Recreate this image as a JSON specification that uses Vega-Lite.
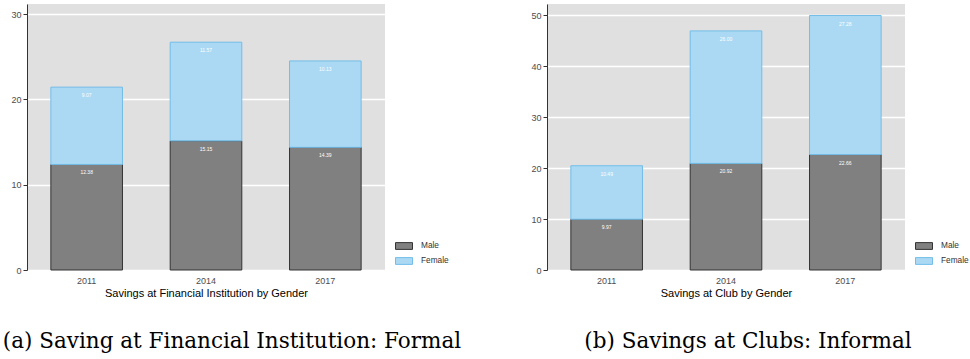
{
  "$schema": "https://vega.github.io/schema/vega-lite/v6.json",
  "padding": {"left": 2, "top": 4, "right": 0, "bottom": 0},
  "background": "white",
  "bounds": "flush",
  "config": {
    "view": {"fill": "#E0E0E0", "stroke": null},
    "axis": {"labelFont": "Liberation Sans", "titleFont": "Liberation Sans", "labelColor": "#4D4D4D", "labelFontSize": 9, "titleFontSize": 11, "titleFontWeight": "normal", "titleColor": "#000000"},
    "legend": {"labelFont": "Liberation Sans", "labelFontSize": 8.3, "labelColor": "#333333"},
    "title": {"font": "DejaVu Serif", "fontSize": 21.5, "fontWeight": "normal", "color": "#000000"}
  },
  "datasets": {
    "savings": [
      {"panel": "formal", "year": "2011", "gender": "Male", "value": 12.38},
      {"panel": "formal", "year": "2011", "gender": "Female", "value": 9.07},
      {"panel": "formal", "year": "2014", "gender": "Male", "value": 15.15},
      {"panel": "formal", "year": "2014", "gender": "Female", "value": 11.57},
      {"panel": "formal", "year": "2017", "gender": "Male", "value": 14.39},
      {"panel": "formal", "year": "2017", "gender": "Female", "value": 10.13},
      {"panel": "club", "year": "2011", "gender": "Male", "value": 9.97},
      {"panel": "club", "year": "2011", "gender": "Female", "value": 10.49},
      {"panel": "club", "year": "2014", "gender": "Male", "value": 20.92},
      {"panel": "club", "year": "2014", "gender": "Female", "value": 26.00},
      {"panel": "club", "year": "2017", "gender": "Male", "value": 22.66},
      {"panel": "club", "year": "2017", "gender": "Female", "value": 27.28}
    ]
  },
  "data": {"name": "savings"},
  "transform": [
    {"calculate": "datum.gender === 'Male' ? 0 : 1", "as": "ord"},
    {"stack": "value", "groupby": ["panel", "year"], "sort": [{"field": "ord", "order": "ascending"}], "as": ["v0", "v1"]},
    {"calculate": "format(datum.value, '.2f')", "as": "lbl"}
  ],
  "resolve": {"legend": {"fill": "independent", "stroke": "independent"}, "scale": {"y": "independent"}},
  "spacing": 162,
  "hconcat": [
    {
      "width": 358,
      "height": 266,
      "title": {"text": "(a) Saving at Financial Institution: Formal", "orient": "bottom", "anchor": "middle", "offset": 33, "dx": 26},
      "transform": [{"filter": "datum.panel === 'formal'"}],
      "layer": [
        {
          "mark": {"type": "bar", "strokeWidth": 1},
          "encoding": {
            "x": {"field": "year", "type": "nominal", "scale": {"paddingInner": 0.4, "paddingOuter": 0.2}, "axis": {"title": "Savings at Financial Institution by Gender", "labelAngle": 0, "domain": false, "ticks": false, "labelPadding": 6, "titlePadding": 2}},
            "y": {"field": "v0", "type": "quantitative", "scale": {"domain": [0, 31.2], "nice": false}, "axis": {"title": null, "values": [0, 10, 20, 30], "gridColor": "#FFFFFF", "gridWidth": 1.5, "domainColor": "#333333", "tickColor": "#333333", "tickSize": 4, "labelPadding": 2}},
            "y2": {"field": "v1"},
            "fill": {"field": "gender", "type": "nominal", "scale": {"domain": ["Male", "Female"], "range": ["#808080", "#ABD9F3"]}, "legend": {"title": null, "orient": "none", "legendX": 368, "legendY": 233, "symbolType": "M-1,-0.4L1,-0.4L1,0.4L-1,0.4Z", "symbolSize": 289, "symbolStrokeWidth": 1, "rowPadding": -4, "labelOffset": 8}},
            "stroke": {"field": "gender", "type": "nominal", "scale": {"domain": ["Male", "Female"], "range": ["#333333", "#72BDE9"]}, "legend": null}
          }
        },
        {
          "mark": {"type": "text", "baseline": "top", "dy": 6, "fontSize": 5, "color": "#FFFFFF", "font": "Liberation Sans"},
          "encoding": {
            "x": {"field": "year", "type": "nominal"},
            "y": {"field": "v1", "type": "quantitative"},
            "text": {"field": "lbl"}
          }
        }
      ]
    },
    {
      "width": 358,
      "height": 266,
      "title": {"text": "(b) Savings at Clubs: Informal", "orient": "bottom", "anchor": "middle", "offset": 33, "dx": 22},
      "transform": [{"filter": "datum.panel === 'club'"}],
      "layer": [
        {
          "mark": {"type": "bar", "strokeWidth": 1},
          "encoding": {
            "x": {"field": "year", "type": "nominal", "scale": {"paddingInner": 0.4, "paddingOuter": 0.2}, "axis": {"title": "Savings at Club by Gender", "labelAngle": 0, "domain": false, "ticks": false, "labelPadding": 6, "titlePadding": 2}},
            "y": {"field": "v0", "type": "quantitative", "scale": {"domain": [0, 52.2], "nice": false}, "axis": {"title": null, "values": [0, 10, 20, 30, 40, 50], "gridColor": "#FFFFFF", "gridWidth": 1.5, "domainColor": "#333333", "tickColor": "#333333", "tickSize": 4, "labelPadding": 2}},
            "y2": {"field": "v1"},
            "fill": {"field": "gender", "type": "nominal", "scale": {"domain": ["Male", "Female"], "range": ["#808080", "#ABD9F3"]}, "legend": {"title": null, "orient": "none", "legendX": 368, "legendY": 233, "symbolType": "M-1,-0.4L1,-0.4L1,0.4L-1,0.4Z", "symbolSize": 289, "symbolStrokeWidth": 1, "rowPadding": -4, "labelOffset": 8}},
            "stroke": {"field": "gender", "type": "nominal", "scale": {"domain": ["Male", "Female"], "range": ["#333333", "#72BDE9"]}, "legend": null}
          }
        },
        {
          "mark": {"type": "text", "baseline": "top", "dy": 6, "fontSize": 5, "color": "#FFFFFF", "font": "Liberation Sans"},
          "encoding": {
            "x": {"field": "year", "type": "nominal"},
            "y": {"field": "v1", "type": "quantitative"},
            "text": {"field": "lbl"}
          }
        }
      ]
    }
  ]
}
